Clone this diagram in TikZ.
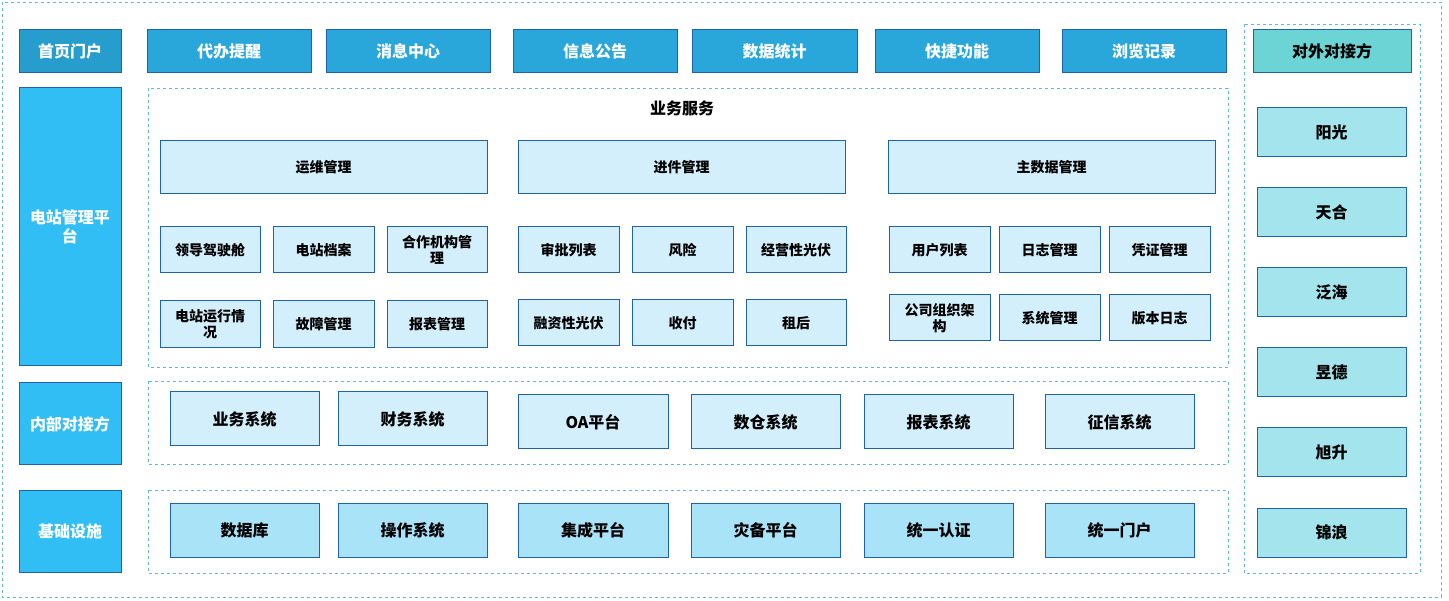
\documentclass[tikz,border=0pt]{standalone}
\usepackage{fontspec}
\setmainfont{Noto Sans CJK SC}
\begin{document}
\begin{tikzpicture}[x=1pt,y=-1pt,
 bx/.style={draw=bdr,line width=1pt,fill=lb,font=\fontsize{14}{16}\selectfont\bfseries,align=center,text=black},
 topb/.style={draw=bdr,line width=1pt,fill=tb,text=white,font=\fontsize{16}{18}\selectfont\bfseries},
 side/.style={draw=bdr,line width=1pt,fill=sb,text=white,font=\fontsize{16}{19}\selectfont\bfseries,align=center},
 rb/.style={draw=bdr,line width=1pt,fill=rbc,text=black,font=\fontsize{16}{18}\selectfont\bfseries},
 dsh/.style={draw=dl,dashed,line width=0.7pt}]
\definecolor{bdr}{HTML}{1F63B0}
\definecolor{lb}{HTML}{D2EFFB}
\definecolor{ib}{HTML}{A9E3F7}
\definecolor{tb}{HTML}{2AA7DA}
\definecolor{sb}{HTML}{30BEF5}
\definecolor{rbc}{HTML}{A4E4EC}
\definecolor{tc}{HTML}{6CD4D4}
\definecolor{dl}{HTML}{5BBCE0}
\useasboundingbox (0,0) rectangle (1449,601);
\def\C#1#2#3#4#5#6#7{\node[#1,minimum width={#4-#2},minimum height={#5-#3},inner sep=1pt] (#6) at ({(#2+#4)/2},{(#3+#5)/2}) {#7};}
\draw[dsh] (2,2) rectangle (1441,597);
\draw[dsh] (1244,24) rectangle (1420,573);
\draw[dsh] (148,88) rectangle (1228,367);
\draw[dsh] (148,381) rectangle (1228,464);
\draw[dsh] (148,490) rectangle (1228,573);
% top row
\C{topb,fill=tb!94!black}{19}{30}{121}{73}{t0}{首页门户}
\C{topb}{147}{30}{311}{73}{t1}{代办提醒}
\C{topb}{326}{30}{490}{73}{t2}{消息中心}
\C{topb}{513}{30}{677}{73}{t3}{信息公告}
\C{topb}{692}{30}{857}{73}{t4}{数据统计}
\C{topb}{875}{30}{1039}{73}{t5}{快捷功能}
\C{topb}{1062}{30}{1226}{73}{t6}{浏览记录}
\C{rb,fill=tc}{1253}{30}{1411}{73}{t7}{对外对接方}
% left
\C{side}{19}{88}{121}{366}{s1}{电站管理平\\台}
\C{side}{19}{383}{121}{465}{s2}{内部对接方}
\C{side}{19}{490}{121}{572}{s3}{基础设施}
\node[font=\fontsize{16}{18}\selectfont\bfseries] (ywt) at (682,108) {业务服务};
% big boxes
\C{bx}{160}{141}{487}{194}{m1}{运维管理}
\C{bx}{518}{141}{845}{194}{m2}{进件管理}
\C{bx}{888}{141}{1215}{194}{m3}{主数据管理}
\C{bx}{160}{227}{260}{273}{a1}{领导驾驶舱}
\C{bx}{273}{227}{374}{273}{a2}{电站档案}
\C{bx}{387}{227}{487}{273}{a3}{合作机构管\\理}
\C{bx}{160}{301}{260}{348}{a4}{电站运行情\\况}
\C{bx}{273}{301}{374}{348}{a5}{故障管理}
\C{bx}{387}{301}{487}{348}{a6}{报表管理}
\C{bx}{518}{227}{619}{273}{b1}{审批列表}
\C{bx}{632}{227}{733}{273}{b2}{风险}
\C{bx}{746}{227}{846}{273}{b3}{经营性光伏}
\C{bx}{518}{300}{619}{346}{b4}{融资性光伏}
\C{bx}{632}{300}{733}{346}{b5}{收付}
\C{bx}{746}{300}{846}{346}{b6}{租后}
\C{bx}{889}{227}{990}{273}{c1}{用户列表}
\C{bx}{999}{227}{1100}{273}{c2}{日志管理}
\C{bx}{1109}{227}{1210}{273}{c3}{凭证管理}
\C{bx}{889}{295}{990}{341}{c4}{公司组织架\\构}
\C{bx}{999}{295}{1100}{341}{c5}{系统管理}
\C{bx}{1109}{295}{1210}{341}{c6}{版本日志}
% internal
\tikzset{bb/.style={bx,font=\fontsize{16}{18}\selectfont\bfseries}}
\C{bb}{170}{392}{319}{446}{i1}{业务系统}
\C{bb}{338}{392}{487}{446}{i2}{财务系统}
\C{bb}{518}{395}{668}{449}{i3}{OA平台}
\C{bb}{691}{395}{840}{449}{i4}{数仓系统}
\C{bb}{864}{395}{1013}{449}{i5}{报表系统}
\C{bb}{1045}{395}{1194}{449}{i6}{征信系统}
\C{bb,fill=ib}{170}{503}{319}{557}{j1}{数据库}
\C{bb,fill=ib}{338}{503}{487}{557}{j2}{操作系统}
\C{bb,fill=ib}{518}{503}{668}{557}{j3}{集成平台}
\C{bb,fill=ib}{691}{503}{840}{557}{j4}{灾备平台}
\C{bb,fill=ib}{864}{503}{1013}{557}{j5}{统一认证}
\C{bb,fill=ib}{1045}{503}{1194}{557}{j6}{统一门户}
% right
\C{rb}{1257}{108}{1406}{157}{r1}{阳光}
\C{rb}{1257}{188}{1406}{237}{r2}{天合}
\C{rb}{1257}{268}{1406}{317}{r3}{泛海}
\C{rb}{1257}{348}{1406}{397}{r4}{昱德}
\C{rb}{1257}{428}{1406}{477}{r5}{旭升}
\C{rb}{1257}{508}{1406}{557}{r6}{锦浪}
\end{tikzpicture}
\end{document}
